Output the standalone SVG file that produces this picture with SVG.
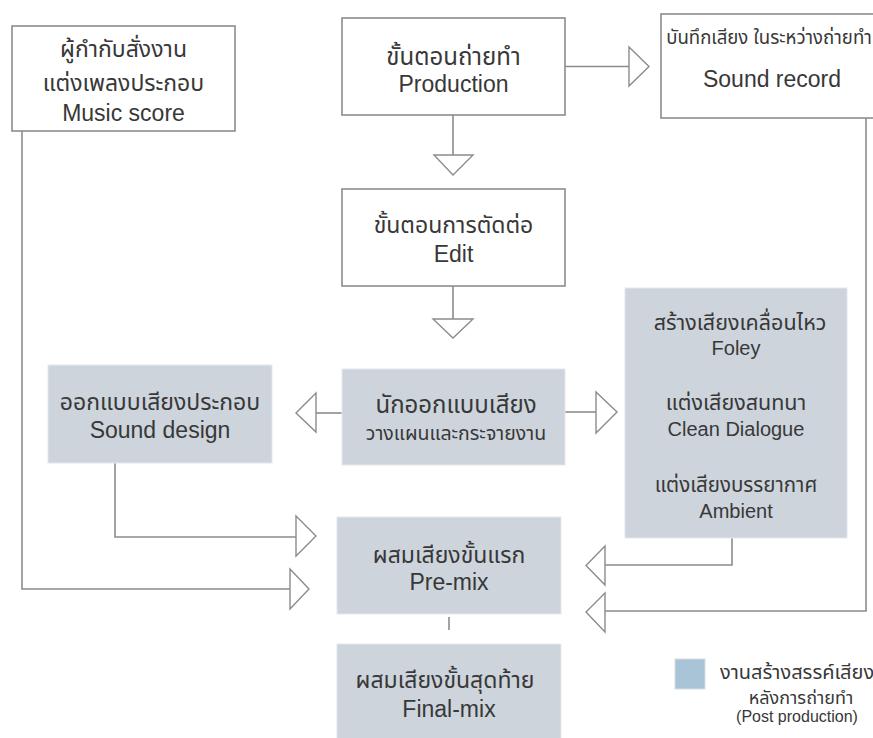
<svg xmlns="http://www.w3.org/2000/svg" width="873" height="738" viewBox="0 0 873 738">
<style>
.box{fill:#ffffff;stroke:#8c8c8c;stroke-width:1.6}
.post{fill:#cdd4dc;stroke:#e4e8ec;stroke-width:1}
.ln{fill:none;stroke:#8c8c8c;stroke-width:1.6}
.hd{fill:#ffffff;stroke:#8c8c8c;stroke-width:1.4;stroke-linejoin:miter}
text{font-family:"Liberation Sans","Noto Sans Thai","Noto Sans",sans-serif;fill:#383838;text-anchor:middle}
.b{font-size:23px}
.m{font-size:20px}
.mt{font-size:21.5px}
.s{font-size:19.5px}
.xs{font-size:16px}
.xt{font-size:18px}
</style>
<rect width="873" height="738" fill="#ffffff"/>
<g id="connectors">
  <path class="ln" d="M565,66.5 H629"/>
  <polygon class="hd" points="629,47 649,66.5 629,86"/>
  <path class="ln" d="M453,115 V155"/>
  <polygon class="hd" points="434,155 473,155 453,175"/>
  <path class="ln" d="M453,286 V319"/>
  <polygon class="hd" points="433,319 473,319 453,338"/>
  <path class="ln" d="M342,413 H316"/>
  <polygon class="hd" points="316,393 296,413 316,432"/>
  <path class="ln" d="M565,412 H596"/>
  <polygon class="hd" points="596,392 617,412 596,433"/>
  <path class="ln" d="M115,463 V537 H296"/>
  <polygon class="hd" points="296,516 316,536 296,556"/>
  <path class="ln" d="M22,131 V589 H290"/>
  <polygon class="hd" points="290,569 309,589 290,609"/>
  <path class="ln" d="M732,538 V565 H605"/>
  <polygon class="hd" points="605,546 586,565.5 605,585"/>
  <path class="ln" d="M866,118 V611 H605"/>
  <polygon class="hd" points="605,593 586,612 605,632"/>
  <path class="ln" d="M449,617 V630"/>
</g>
<g id="music-score">
  <rect class="box" x="12" y="26" width="223" height="105"/>
  <text class="b" x="123.5" y="57">ผู้กำกับสั่งงาน</text>
  <text class="b" x="123.5" y="91">แต่งเพลงประกอบ</text>
  <text class="b" x="123.5" y="121">Music score</text>
</g>
<g id="production">
  <rect class="box" x="342" y="18" width="223" height="97"/>
  <text class="b" x="453.5" y="65" style="font-size:24px">ขั้นตอนถ่ายทำ</text>
  <text class="b" x="453.5" y="92">Production</text>
</g>
<g id="sound-record">
  <rect class="box" x="661" y="14" width="214" height="104"/>
  <text x="769" y="44" style="font-size:18.6px">บันทึกเสียง ในระหว่างถ่ายทำ</text>
  <text class="b" x="772" y="87">Sound record</text>
</g>
<g id="edit">
  <rect class="box" x="342" y="189" width="223" height="97"/>
  <text class="b" x="453.5" y="233">ขั้นตอนการตัดต่อ</text>
  <text class="b" x="453.5" y="262">Edit</text>
</g>
<g id="sound-designer">
  <rect class="post" x="342" y="369" width="223" height="96"/>
  <text class="b" x="456" y="413" style="font-size:24px">นักออกแบบเสียง</text>
  <text class="s" x="456" y="440">วางแผนและกระจายงาน</text>
</g>
<g id="sound-design">
  <rect class="post" x="48" y="365" width="224" height="98"/>
  <text class="b" x="160" y="410">ออกแบบเสียงประกอบ</text>
  <text class="b" x="160" y="438">Sound design</text>
</g>
<g id="foley">
  <rect class="post" x="625" y="288" width="222" height="250"/>
  <text class="mt" x="740" y="330">สร้างเสียงเคลื่อนไหว</text>
  <text class="m" x="736" y="355">Foley</text>
  <text class="mt" x="736" y="410">แต่งเสียงสนทนา</text>
  <text class="m" x="736" y="436">Clean Dialogue</text>
  <text class="m" x="736" y="492" style="font-size:20.5px">แต่งเสียงบรรยากาศ</text>
  <text class="m" x="736" y="518">Ambient</text>
</g>
<g id="pre-mix">
  <rect class="post" x="337" y="517" width="224" height="97"/>
  <text class="b" x="449" y="563">ผสมเสียงขั้นแรก</text>
  <text class="b" x="449" y="590">Pre-mix</text>
</g>
<g id="final-mix">
  <rect class="post" x="337" y="644" width="224" height="100"/>
  <text class="b" x="445" y="688">ผสมเสียงขั้นสุดท้าย</text>
  <text class="b" x="449" y="717">Final-mix</text>
</g>
<g id="legend">
  <rect x="675" y="659" width="30" height="30" fill="#a8c4d6" stroke="#d8dde2" stroke-width="1"/>
  <text class="m" x="720" y="679" style="text-anchor:start">งานสร้างสรรค์เสียง</text>
  <text class="xt" x="801" y="704">หลังการถ่ายทำ</text>
  <text class="xs" x="797" y="722">(Post production)</text>
</g>
</svg>
